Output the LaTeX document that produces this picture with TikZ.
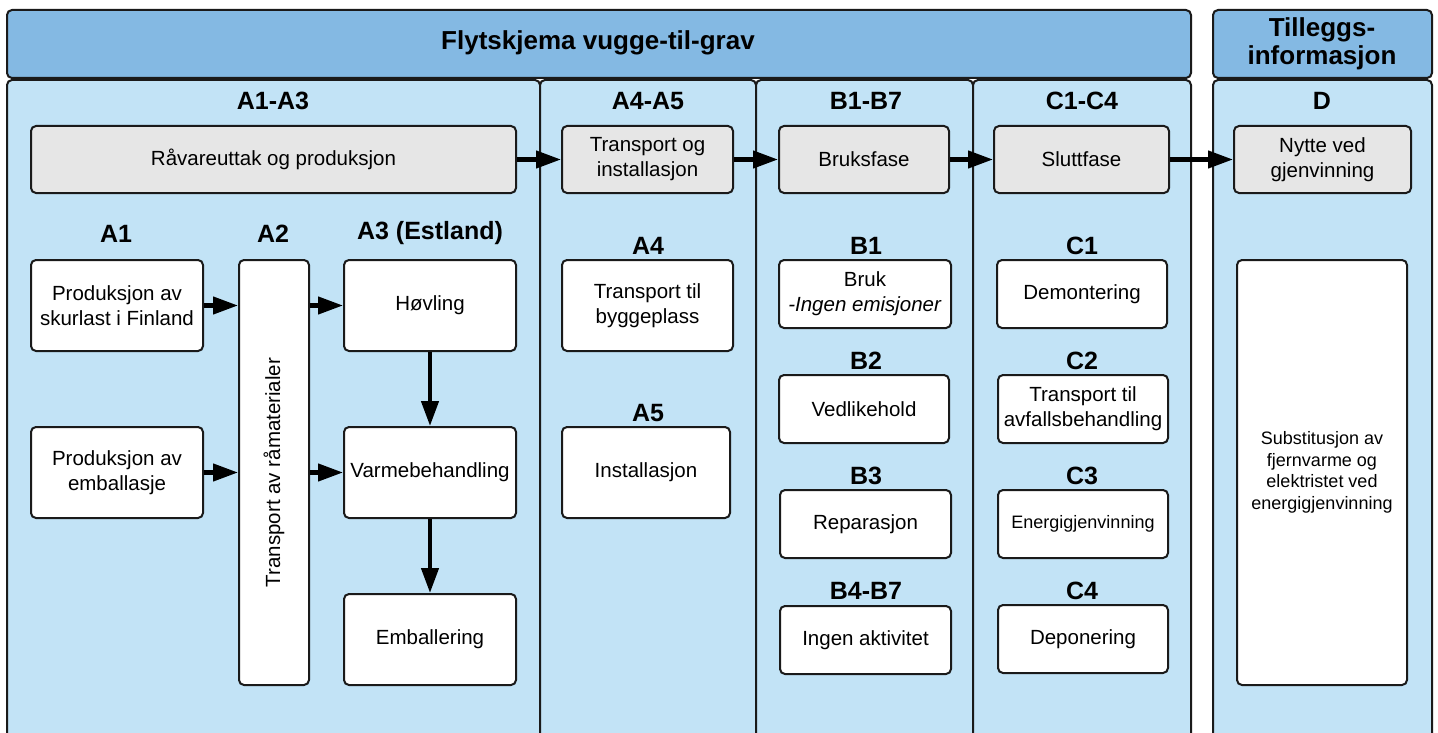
\documentclass[tikz,border=0pt]{standalone}
\usepackage{fontspec}
\setmainfont{Liberation Sans}
\usetikzlibrary{arrows.meta}
\definecolor{hdrblue}{HTML}{84B9E3}
\definecolor{panelblue}{HTML}{C2E3F6}
\definecolor{boxgray}{HTML}{E6E6E6}
\definecolor{edge}{HTML}{1A1A1A}
\tikzset{
  hdr/.style={draw=edge, line width=2pt, fill=hdrblue, rounded corners=5pt},
  panel/.style={draw=edge, line width=2pt, fill=panelblue, rounded corners=5pt},
  basebox/.style={draw=edge, line width=2pt, rounded corners=5pt, inner sep=0pt, align=center,
    font=\fontsize{20.5}{25}\selectfont},
  gbox/.style={basebox, fill=boxgray},
  wbox/.style={basebox, fill=white},
  lbl/.style={font=\fontsize{25}{28}\selectfont\bfseries},
  ttl/.style={font=\fontsize{26}{28}\selectfont\bfseries, align=center},
  arr/.style={line width=4.3pt, -{Triangle[length=25pt,width=17pt]}},
  sz/.style 2 args={minimum width=#1pt, minimum height=#2pt}
}
\begin{document}
\begin{tikzpicture}[x=1pt,y=-1pt]
\clip (0,0) rectangle (1438,733);
\fill[white] (0,0) rectangle (1438,733);
% headers
\draw[hdr] (7,10) rectangle (1191,78);
\draw[hdr] (1213,10) rectangle (1432,78);
\node[ttl] (title) at (598,43) {Flytskjema vugge-til-grav};
\node[ttl] (tillegg) at (1322,44) {Tilleggs-\\informasjon};
% panels
\draw[panel] (7,80) rectangle (540,760);
\draw[panel] (540,80) rectangle (756,760);
\draw[panel] (756,80) rectangle (973,760);
\draw[panel] (973,80) rectangle (1191,760);
\draw[panel] (1213,80) rectangle (1432,760);
% column headings
\node[lbl] (hA13) at (273,101) {A1-A3};
\node[lbl] (hA45) at (648,101) {A4-A5};
\node[lbl] (hB) at (866,101) {B1-B7};
\node[lbl] (hC) at (1082,101) {C1-C4};
\node[lbl] (hD) at (1322,101) {D};
% gray phase boxes
\node[gbox, sz={485}{67}] (g1) at (273.5,159.5) {Råvareuttak og produksjon};
\node[gbox, sz={171}{67}] (g2) at (647.5,159.5) {Transport og\\installasjon};
\node[gbox, sz={170}{67}] (g3) at (864,159.5) {Bruksfase};
\node[gbox, sz={175}{67}] (g4) at (1081.5,159.5) {Sluttfase};
\node[gbox, sz={177}{67}] (g5) at (1322.5,159.5) {Nytte ved\\gjenvinning};
\draw[arr] (g1.east) -- (g2.west);
\draw[arr] (g2.east) -- (g3.west);
\draw[arr] (g3.east) -- (g4.west);
\draw[arr] (g4.east) -- (g5.west);
% A1-A3
\node[lbl] (lA1) at (116,234) {A1};
\node[lbl] (lA2) at (273,234) {A2};
\node[lbl] (lA3) at (430,233) {A3 (Estland)};
\node[wbox, sz={172}{91}] (skur) at (117,305.5) {Produksjon av\\skurlast i Finland};
\node[wbox, sz={172}{91}] (emb) at (117,472.5) {Produksjon av\\emballasje};
\node[wbox, sz={70}{425}] (tr) at (274,472.5) {};
\node[rotate=90, font=\fontsize{20.5}{25}\selectfont] (trtxt) at (tr.center) {Transport av råmaterialer};
\node[wbox, sz={172}{91}] (hov) at (430,305.5) {Høvling};
\node[wbox, sz={172}{91}] (varme) at (430,472.5) {Varmebehandling};
\node[wbox, sz={172}{91}] (emba) at (430,639.5) {Emballering};
\draw[arr] (skur.east) -- (skur.east -| tr.west);
\draw[arr] (emb.east) -- (emb.east -| tr.west);
\draw[arr] (tr.east |- hov.west) -- (hov.west);
\draw[arr] (tr.east |- varme.west) -- (varme.west);
\draw[arr] (hov.south) -- (varme.north);
\draw[arr] (varme.south) -- (emba.north);
% A4-A5
\node[lbl] (lA4) at (648,246) {A4};
\node[wbox, sz={171}{91}] (a4) at (647.5,305.5) {Transport til\\byggeplass};
\node[lbl] (lA5) at (648,413) {A5};
\node[wbox, sz={168}{91}] (a5) at (646,472.5) {Installasjon};
% B
\node[lbl] (lB1) at (866,246) {B1};
\node[wbox, sz={172}{68}] (b1) at (865,294) {Bruk\\\textit{-Ingen emisjoner}};
\node[lbl] (lB2) at (866,361) {B2};
\node[wbox, sz={170}{68}] (b2) at (864,409) {Vedlikehold};
\node[lbl] (lB3) at (866,476) {B3};
\node[wbox, sz={171}{68}] (b3) at (865.5,524) {Reparasjon};
\node[lbl] (lB4) at (866,591) {B4-B7};
\node[wbox, sz={171}{68}] (b4) at (865.5,640) {Ingen aktivitet};
% C
\node[lbl] (lC1) at (1082,246) {C1};
\node[wbox, sz={170}{68}] (c1) at (1082,294) {Demontering};
\node[lbl] (lC2) at (1082,361) {C2};
\node[wbox, sz={170}{68}] (c2) at (1083,409) {Transport til\\avfallsbehandling};
\node[lbl] (lC3) at (1082,476) {C3};
\node[wbox, sz={170}{68}, font=\fontsize{18}{22}\selectfont] (c3) at (1083,524) {Energigjenvinning};
\node[lbl] (lC4) at (1082,591) {C4};
\node[wbox, sz={170}{68}] (c4) at (1083,639) {Deponering};
% D
\node[wbox, sz={170}{425}, font=\fontsize{18}{21.5}\selectfont] (d) at (1322,472.5) {Substitusjon av\\fjernvarme og\\elektristet ved\\energigjenvinning};
\end{tikzpicture}
\end{document}
